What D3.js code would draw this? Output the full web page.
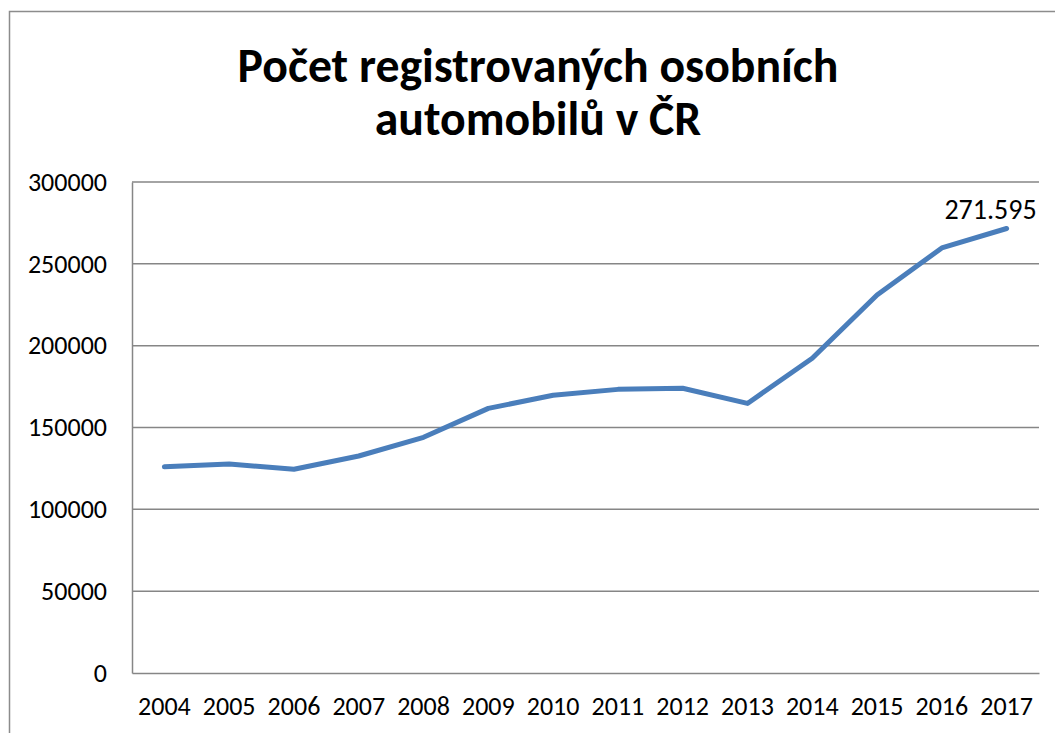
<!DOCTYPE html>
<html>
<head>
<meta charset="utf-8">
<script src="https://cdn.jsdelivr.net/npm/d3@7"></script>
<style>
  html, body { margin: 0; padding: 0; background: #fff; }
  svg { display: block; }
</style>
</head>
<body>
<svg id="chart" width="1055" height="733"></svg>
<script>
const titleLines = ["Počet registrovaných osobních", "automobilů v ČR"];
const years = ["2004","2005","2006","2007","2008","2009","2010","2011","2012","2013","2014","2015","2016","2017"];
const registrations = [126000, 127700, 124500, 132600, 144000, 161700, 169700, 173300, 174000, 164700, 192300, 231000, 259700, 271595];
const yTicks = [0, 50000, 100000, 150000, 200000, 250000, 300000];
const lastLabel = "271.595";

const W = 1055, H = 733;
const svg = d3.select("#chart");
const fontFam = "Carlito, Lato, 'Open Sans', sans-serif";

// outer chart border
svg.append("rect")
  .attr("x", 9.5).attr("y", 11.5)
  .attr("width", W + 20).attr("height", H + 20)
  .attr("fill", "none").attr("stroke", "#8c8c8c").attr("stroke-width", 1.5);

const plot = { left: 132, right: 1039, top: 182, bottom: 673 };

const x = d3.scaleBand().domain(years).range([plot.left, plot.right]).padding(0);
const y = d3.scaleLinear().domain([0, 300000]).range([plot.bottom, plot.top]);

// gridlines
svg.append("g")
  .selectAll("line")
  .data(yTicks.filter(d => d > 0))
  .join("line")
  .attr("x1", plot.left).attr("x2", plot.right)
  .attr("y1", d => y(d)).attr("y2", d => y(d))
  .attr("stroke", "#868686").attr("stroke-width", 1.5);

// y axis
const yAxis = svg.append("g")
  .attr("transform", `translate(${plot.left},0)`)
  .call(d3.axisLeft(y).tickValues(yTicks).tickSize(0).tickPadding(25).tickFormat(d3.format("d")));
yAxis.select(".domain").attr("stroke", "#868686").attr("stroke-width", 1.5);
yAxis.selectAll("text").attr("font-family", fontFam).attr("font-size", 26).attr("fill", "#000");

// x axis
const xAxis = svg.append("g")
  .attr("transform", `translate(0,${plot.bottom})`)
  .call(d3.axisBottom(x).tickSize(0).tickPadding(24));
xAxis.select(".domain").attr("stroke", "#868686").attr("stroke-width", 1.5);
xAxis.selectAll("text").attr("font-family", fontFam).attr("font-size", 26).attr("fill", "#000");

// line
const line = d3.line()
  .x((d, i) => x(years[i]) + x.bandwidth() / 2)
  .y(d => y(d));
svg.append("path")
  .datum(registrations)
  .attr("d", line)
  .attr("fill", "none")
  .attr("stroke", "#4a7ebb")
  .attr("stroke-width", 5)
  .attr("stroke-linejoin", "round")
  .attr("stroke-linecap", "round");

// data label for last point
const li = registrations.length - 1;
svg.append("text")
  .attr("x", x(years[li]) + x.bandwidth() / 2 + 30)
  .attr("y", y(registrations[li]) - 9)
  .attr("text-anchor", "end")
  .attr("font-family", fontFam)
  .attr("font-size", 28)
  .attr("fill", "#000")
  .text(lastLabel);

// title
const title = svg.append("g");
const t1 = title.append("text")
  .attr("x", 538).attr("y", 82)
  .attr("text-anchor", "middle")
  .attr("font-family", fontFam).attr("font-weight", "bold")
  .attr("font-size", 40).attr("fill", "#000")
  .text(titleLines[0]);
const w1 = t1.node().getComputedTextLength();
const fs = 40 * 601 / w1;
t1.attr("font-size", fs);
title.append("text")
  .attr("x", 538).attr("y", 135)
  .attr("text-anchor", "middle")
  .attr("font-family", fontFam).attr("font-weight", "bold")
  .attr("font-size", fs).attr("fill", "#000")
  .text(titleLines[1]);
</script>
</body>
</html>
